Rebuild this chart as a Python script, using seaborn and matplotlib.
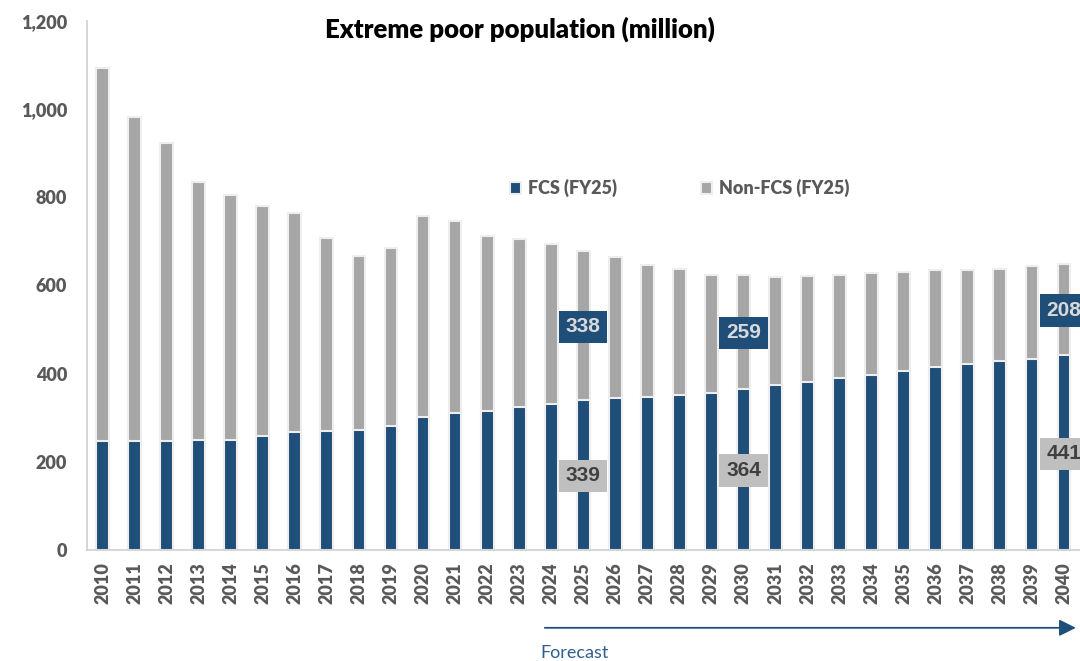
import matplotlib
matplotlib.use("Agg")
import matplotlib.pyplot as plt
import seaborn as sns
from matplotlib.ticker import FuncFormatter

# data (million people)
years = [str(y) for y in range(2010, 2041)]
fcs = [248, 248, 248, 249, 250, 259, 267, 270, 273, 281, 301, 310, 314, 325, 332, 339,
       344, 348, 352, 356, 364, 373, 381, 390, 397, 406, 414, 421, 428, 434, 441]
non_fcs = [845, 733, 675, 585, 555, 520, 498, 438, 393, 403, 457, 436, 399, 381, 361, 338,
           321, 299, 284, 268, 259, 247, 241, 233, 231, 224, 220, 214, 210, 209, 208]
totals = [a + b for a, b in zip(fcs, non_fcs)]

# labelled years: (year, fcs label y, non-fcs label y)
label_years = ["2025", "2030", "2040"]
fcs_label_y = [168, 180, 218]
non_label_y = [506, 492, 543]

blue = "#1F4E79"
gray = "#A6A6A6"
txt = "#595959"

sns.set_style("white")
plt.rcParams["font.family"] = ["Lato", "DejaVu Sans"]

fig = plt.figure(figsize=(10.8, 6.61), dpi=100)
ax = fig.add_axes([86.5 / 1080, 111 / 661, 993.5 / 1080, 529.3 / 661])

sns.barplot(x=years, y=totals, color=gray, width=0.4, edgecolor="#EEEEEE",
            linewidth=1.5, saturation=1, label="Non-FCS (FY25)", ax=ax)
sns.barplot(x=years, y=fcs, color=blue, width=0.4, edgecolor="#EEEEEE",
            linewidth=1.5, saturation=1, label="FCS (FY25)", ax=ax)

ax.set_xlim(-0.5, len(years) - 0.5)
ax.set_ylim(0, 1200)
ax.set_yticks(range(0, 1201, 200))
ax.yaxis.set_major_formatter(FuncFormatter(lambda v, p: f"{v:,.0f}"))
ax.set_xlabel("")
ax.set_ylabel("")
ax.tick_params(axis="y", length=0, pad=14, labelsize=13, labelcolor=txt)
ax.tick_params(axis="x", length=0, pad=9, labelsize=13, labelcolor=txt, rotation=90)
for lab in ax.get_xticklabels() + ax.get_yticklabels():
    lab.set_fontweight("heavy")

for s in ["top", "right"]:
    ax.spines[s].set_visible(False)
for s in ["left", "bottom"]:
    ax.spines[s].set_color("#D0D0D0")
    ax.spines[s].set_linewidth(1.2)

# legend, FCS first
h, l = ax.get_legend_handles_labels()
leg = ax.legend(h[::-1], l[::-1], loc="center left", bbox_to_anchor=(0.426, 0.684),
                ncol=2, frameon=False, borderpad=0, borderaxespad=0,
                handlelength=0.65, handleheight=0.65, handletextpad=0.35,
                columnspacing=4.65, prop={"size": 13, "weight": "heavy"})
for t in leg.get_texts():
    t.set_color(txt)

# value boxes
for yr, fy, ny in zip(label_years, fcs_label_y, non_label_y):
    i = years.index(yr)
    ax.text(i, ny, str(non_fcs[i]), ha="center", va="center", fontsize=15,
            fontweight="bold", family="Liberation Sans", color="#D9D9D9", clip_on=False,
            bbox=dict(boxstyle="square,pad=0.32", fc=blue, ec="none"))
    ax.text(i, fy, str(fcs[i]), ha="center", va="center", fontsize=15,
            fontweight="bold", family="Liberation Sans", color="#404040", clip_on=False,
            bbox=dict(boxstyle="square,pad=0.32", fc="#BFBFBF", ec="none"))

# forecast arrow
trans = ax.get_xaxis_transform()
ax.annotate("", xy=(30.37, -0.147), xytext=(13.8, -0.147), xycoords=trans,
            textcoords=trans, annotation_clip=False,
            arrowprops=dict(arrowstyle="-|>,head_length=1.0,head_width=0.5",
                            color=blue, lw=1.3, shrinkA=0, shrinkB=0))
ax.text(13.65, -0.194, "Forecast", transform=trans, ha="left", va="center",
        fontsize=13, color="#2E5E8E")

fig.text(519.7 / 1080, 1 - 29 / 661, "Extreme poor population (million)",
         ha="center", va="center", fontsize=18.5, fontweight="heavy", color="black")

fig.savefig("out.png", dpi=100)
